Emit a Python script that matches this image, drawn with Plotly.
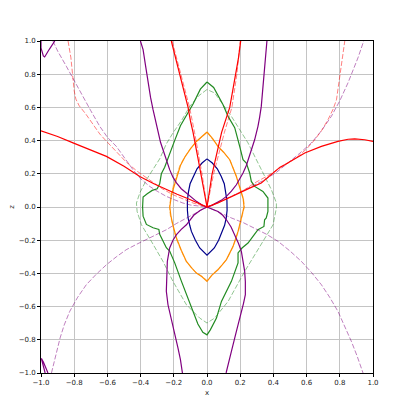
import plotly.graph_objects as go

# ---- data (x, z pairs per curve) ----
blue_x = [0.0, -0.03, -0.06, -0.084, -0.102, -0.112, -0.118, -0.118, -0.114, -0.104, -0.094, -0.07, -0.044, 0.0,
          0.044, 0.07, 0.094, 0.106, 0.116, 0.121, 0.12, 0.114, 0.104, 0.086, 0.062, 0.032, 0.0]
blue_z = [0.29, 0.265, 0.23, 0.184, 0.14, 0.09, 0.04, -0.02, -0.066, -0.11, -0.147, -0.2, -0.247, -0.29,
          -0.247, -0.2, -0.147, -0.11, -0.066, -0.02, 0.04, 0.09, 0.14, 0.184, 0.23, 0.265, 0.29]

orange_x = [0.0, -0.03, -0.064, -0.1, -0.134, -0.16, -0.18, -0.2, -0.214, -0.224, -0.218, -0.205, -0.184, -0.155,
            -0.124, -0.09, -0.064, -0.03, 0.0, 0.03, 0.066, 0.09, 0.117, 0.157, 0.187, 0.207, 0.223, 0.218,
            0.207, 0.19, 0.177, 0.155, 0.137, 0.1, 0.066, 0.035, 0.0]
orange_z = [0.452, 0.425, 0.395, 0.35, 0.3, 0.25, 0.19, 0.13, 0.074, 0.0, -0.05, -0.11, -0.187, -0.26,
            -0.328, -0.37, -0.398, -0.42, -0.448, -0.41, -0.378, -0.35, -0.317, -0.237, -0.147, -0.066, 0.0, 0.05,
            0.084, 0.15, 0.184, 0.24, 0.285, 0.33, 0.365, 0.41, 0.452]
orange_dash_x = [0.0, -0.035, -0.07, -0.105, -0.138, -0.165, -0.185, -0.203, -0.217, -0.226, -0.221, -0.208, -0.188,
                 -0.158, -0.127, -0.093, -0.066, -0.032, 0.0, 0.033, 0.07, 0.095, 0.121, 0.16, 0.19, 0.21, 0.225,
                 0.22, 0.208, 0.192, 0.178, 0.157, 0.139, 0.103, 0.07, 0.037, 0.0]
orange_dash_z = [0.448, 0.418, 0.388, 0.345, 0.296, 0.246, 0.188, 0.128, 0.072, 0.0, -0.05, -0.11, -0.185, -0.258,
                 -0.326, -0.368, -0.394, -0.416, -0.442, -0.405, -0.372, -0.345, -0.312, -0.234, -0.146, -0.066, 0.0,
                 0.05, 0.084, 0.148, 0.182, 0.237, 0.282, 0.326, 0.36, 0.404, 0.448]

green_x = [0.0, -0.04, -0.084, -0.12, -0.16, -0.195, -0.225, -0.24, -0.255, -0.275, -0.285, -0.3, -0.33, -0.36,
           -0.385, -0.388, -0.385, -0.365, -0.325, -0.29, -0.285, -0.265, -0.245, -0.225, -0.195, -0.155, -0.115,
           -0.085, -0.055, -0.025, 0.0, 0.02, 0.057, 0.087, 0.147, 0.187, 0.187, 0.211, 0.247, 0.277, 0.307,
           0.343, 0.347, 0.357, 0.367, 0.367, 0.367, 0.337, 0.287, 0.267, 0.257, 0.237, 0.217, 0.197, 0.167,
           0.127, 0.096, 0.04, 0.0]
green_z = [0.753, 0.71, 0.62, 0.56, 0.49, 0.4, 0.32, 0.27, 0.24, 0.2, 0.14, 0.11, 0.1, 0.08,
           0.06, 0.0, -0.055, -0.105, -0.125, -0.135, -0.165, -0.205, -0.245, -0.265, -0.335, -0.445, -0.545,
           -0.625, -0.705, -0.755, -0.77, -0.74, -0.669, -0.569, -0.448, -0.337, -0.277, -0.247, -0.217, -0.177, -0.137,
           -0.117, -0.077, -0.066, -0.027, 0.0, 0.054, 0.094, 0.124, 0.154, 0.205, 0.265, 0.285, 0.365, 0.478,
           0.546, 0.618, 0.72, 0.753]
green_dash_x = [0.0, -0.05, -0.104, -0.154, -0.205, -0.245, -0.285, -0.325, -0.365, -0.405, -0.425, -0.421, -0.395,
                -0.335, -0.265, -0.205, -0.124, -0.044, 0.0, 0.046, 0.127, 0.227, 0.327, 0.398, 0.418, 0.418, 0.388,
                0.327, 0.247, 0.147, 0.046, 0.0]
green_dash_z = [0.708, 0.67, 0.606, 0.52, 0.446, 0.38, 0.29, 0.225, 0.164, 0.084, 0.024, -0.027, -0.107,
                -0.207, -0.328, -0.448, -0.589, -0.669, -0.699, -0.669, -0.569, -0.388, -0.227, -0.107, -0.006, 0.024, 0.104,
                0.225, 0.386, 0.546, 0.687, 0.708]

purple_a_x = [-0.401, -0.385, -0.37, -0.355, -0.34, -0.325, -0.31, -0.295, -0.28, -0.265, -0.245, -0.225, -0.205,
              -0.184, -0.155, -0.124, -0.094, -0.064, -0.03, 0.0, 0.03, 0.066, 0.095, 0.117, 0.145, 0.167, 0.19,
              0.207, 0.218, 0.227, 0.231, 0.231, 0.22, 0.207, 0.19, 0.177, 0.147, 0.132, 0.115]
purple_a_z = [1.0, 0.948, 0.85, 0.747, 0.66, 0.586, 0.52, 0.446, 0.39, 0.345, 0.28, 0.225, 0.18,
              0.145, 0.11, 0.084, 0.058, 0.034, 0.012, 0.0, -0.01, -0.027, -0.05, -0.077, -0.12, -0.167, -0.22,
              -0.267, -0.33, -0.388, -0.45, -0.528, -0.58, -0.629, -0.69, -0.749, -0.87, -0.93, -1.0]
purple_b_x = [0.361, 0.354, 0.348, 0.342, 0.337, 0.327, 0.317, 0.307, 0.287, 0.257, 0.237, 0.217, 0.177, 0.147,
              0.117, 0.085, 0.057, 0.03, 0.0, -0.04, -0.08, -0.124, -0.155, -0.184, -0.205, -0.225, -0.239,
              -0.243, -0.245, -0.235, -0.22, -0.205, -0.19, -0.175, -0.16, -0.148]
purple_b_z = [1.0, 0.92, 0.847, 0.78, 0.707, 0.606, 0.54, 0.486, 0.405, 0.305, 0.25, 0.205, 0.134, 0.095,
              0.064, 0.04, 0.024, 0.01, 0.0, -0.02, -0.05, -0.107, -0.135, -0.167, -0.2, -0.247, -0.328,
              -0.42, -0.508, -0.589, -0.65, -0.709, -0.78, -0.849, -0.92, -1.0]
purple_c_x = [-1.0, -1.0, -0.986, -0.978, -0.95, -0.917]
purple_c_z = [1.0, 0.958, 0.91, 0.904, 0.95, 1.0]
purple_d_x = [-0.975, -0.99, -0.998, -0.985, -0.958]
purple_d_z = [-1.0, -0.945, -0.912, -0.935, -1.0]

purple_dash_up_x = [-0.928, -0.9, -0.847, -0.8, -0.747, -0.7, -0.646, -0.6, -0.546, -0.5, -0.446, -0.4, -0.345,
                    -0.3, -0.245, -0.2, -0.145, -0.1, -0.044, 0.0, 0.05, 0.107, 0.17, 0.227, 0.29, 0.348, 0.42,
                    0.488, 0.56, 0.629, 0.69, 0.749, 0.8, 0.849, 0.88, 0.91, 0.944]
purple_dash_up_z = [1.0, 0.94, 0.847, 0.76, 0.666, 0.58, 0.486, 0.42, 0.365, 0.3, 0.225, 0.17, 0.124,
                    0.095, 0.064, 0.045, 0.024, 0.012, 0.004, 0.0, 0.02, 0.044, 0.075, 0.104, 0.135, 0.164, 0.21,
                    0.265, 0.325, 0.386, 0.46, 0.546, 0.64, 0.747, 0.82, 0.9, 1.0]
purple_dash_dn_x = [-0.937, -0.91, -0.885, -0.86, -0.827, -0.78, -0.727, -0.667, -0.606, -0.546, -0.486, -0.425,
                    -0.365, -0.305, -0.245, -0.185, -0.124, -0.06, 0.0, 0.07, 0.147, 0.22, 0.287, 0.36, 0.428,
                    0.5, 0.569, 0.63, 0.689, 0.74, 0.789, 0.83, 0.87, 0.905, 0.94]
purple_dash_dn_z = [-1.0, -0.88, -0.789, -0.71, -0.629, -0.545, -0.468, -0.405, -0.348, -0.3, -0.257, -0.225,
                    -0.197, -0.167, -0.137, -0.1, -0.066, -0.03, 0.0, -0.03, -0.066, -0.095, -0.127, -0.165, -0.207,
                    -0.265, -0.328, -0.395, -0.468, -0.545, -0.629, -0.72, -0.81, -0.9, -1.0]

red_a_x = [-1.0, -0.9, -0.807, -0.7, -0.606, -0.5, -0.405, -0.32, -0.245, -0.18, -0.124, -0.06, 0.0,
           0.066, 0.13, 0.187, 0.26, 0.327, 0.37, 0.408, 0.44, 0.468, 0.53, 0.589, 0.689, 0.789, 0.85, 0.89,
           0.95, 1.0]
red_a_z = [0.459, 0.425, 0.386, 0.345, 0.305, 0.245, 0.184, 0.14, 0.104, 0.077, 0.054, 0.026, 0.0,
           0.024, 0.055, 0.084, 0.115, 0.145, 0.18, 0.215, 0.24, 0.255, 0.29, 0.325, 0.365, 0.395, 0.408, 0.41,
           0.405, 0.395]
red_b_x = [-0.215, -0.19, -0.165, -0.14, -0.114, -0.1, -0.084, -0.05, -0.036, 0.0, 0.03, 0.05, 0.088, 0.137, 0.173,
           0.19, 0.203]
red_b_z = [1.0, 0.9, 0.8, 0.7, 0.6, 0.52, 0.45, 0.27, 0.195, 0.0, 0.195, 0.28, 0.45, 0.6, 0.8, 0.9, 1.0]

red_dash_a_x = [-0.837, -0.82, -0.81, -0.8, -0.79, -0.77, -0.73, -0.69, -0.646, -0.6, -0.546, -0.486, -0.42,
                -0.345, -0.27, -0.205, -0.14, -0.084, 0.0, 0.07, 0.147, 0.22, 0.287, 0.36, 0.428, 0.49, 0.548, 0.6,
                0.649, 0.69, 0.729, 0.76, 0.78, 0.795, 0.81, 0.82, 0.83]
red_dash_a_z = [1.0, 0.9, 0.8, 0.7, 0.65, 0.61, 0.56, 0.5, 0.44, 0.39, 0.33, 0.27, 0.215,
                0.16, 0.11, 0.074, 0.045, 0.024, 0.0, 0.03, 0.064, 0.1, 0.145, 0.185, 0.225, 0.265, 0.305, 0.35,
                0.405, 0.46, 0.526, 0.59, 0.646, 0.75, 0.847, 0.92, 1.0]
red_dash_b_x = [-0.21, -0.158, -0.105, -0.075, -0.03, 0.0, 0.04, 0.105, 0.15, 0.18, 0.2]
red_dash_b_z = [1.0, 0.8, 0.6, 0.45, 0.2, 0.0, 0.2, 0.45, 0.6, 0.8, 1.0]

x_ticks = [-1.0, -0.8, -0.6, -0.4, -0.2, 0.0, 0.2, 0.4, 0.6, 0.8, 1.0]
z_ticks = [-1.0, -0.8, -0.6, -0.4, -0.2, 0.0, 0.2, 0.4, 0.6, 0.8, 1.0]

SOLID_W = 1.2
DASH_W = 1.0
DASH = "5px,2px"

curves = [
    (blue_x, blue_z, "#00008b", None),
    (orange_x, orange_z, "#ff8c00", None),
    (orange_dash_x, orange_dash_z, "rgba(255,140,0,0.5)", DASH),
    (green_x, green_z, "#228b22", None),
    (green_dash_x, green_dash_z, "rgba(34,139,34,0.5)", DASH),
    (purple_a_x, purple_a_z, "#800080", None),
    (purple_b_x, purple_b_z, "#800080", None),
    (purple_c_x, purple_c_z, "#800080", None),
    (purple_d_x, purple_d_z, "#800080", None),
    (purple_dash_up_x, purple_dash_up_z, "rgba(128,0,128,0.5)", DASH),
    (purple_dash_dn_x, purple_dash_dn_z, "rgba(128,0,128,0.5)", DASH),
    (red_a_x, red_a_z, "#ff0000", None),
    (red_b_x, red_b_z, "#ff0000", None),
    (red_dash_a_x, red_dash_a_z, "rgba(255,0,0,0.5)", DASH),
    (red_dash_b_x, red_dash_b_z, "rgba(255,0,0,0.5)", DASH),
]

fig = go.Figure()
for xs, zs, color, dash in curves:
    fig.add_trace(
        go.Scatter(
            x=xs,
            y=zs,
            mode="lines",
            line=dict(color=color, width=DASH_W if dash else SOLID_W, dash=dash or "solid"),
            hoverinfo="skip",
            showlegend=False,
        )
    )

axis_style = dict(
    range=[-1, 1],
    tickvals=x_ticks,
    tickformat=".1f",
    automargin=False,
    showgrid=True,
    gridcolor="#c4c4c4",
    gridwidth=0.8,
    zeroline=False,
    showline=True,
    mirror=True,
    linecolor="black",
    linewidth=0.8,
    ticks="outside",
    ticklen=3,
    tickwidth=0.8,
    tickcolor="black",
    tickfont=dict(size=7, color="#222222"),
)
fig.update_xaxes(**axis_style, title=dict(text="x", font=dict(size=7, color="#222222"), standoff=3))
fig.update_yaxes(**{**axis_style, "tickvals": z_ticks},
                 title=dict(text="z", font=dict(size=7, color="#222222"), standoff=3))

# page body keeps its 8px default margin, so the figure is 399 px and shifted by it
fig.update_layout(
    width=399,
    height=399,
    margin=dict(l=33, r=34, t=33, b=34),
    paper_bgcolor="white",
    plot_bgcolor="white",
    font=dict(family="DejaVu Sans"),
    showlegend=False,
)

fig.write_html("out.html")
